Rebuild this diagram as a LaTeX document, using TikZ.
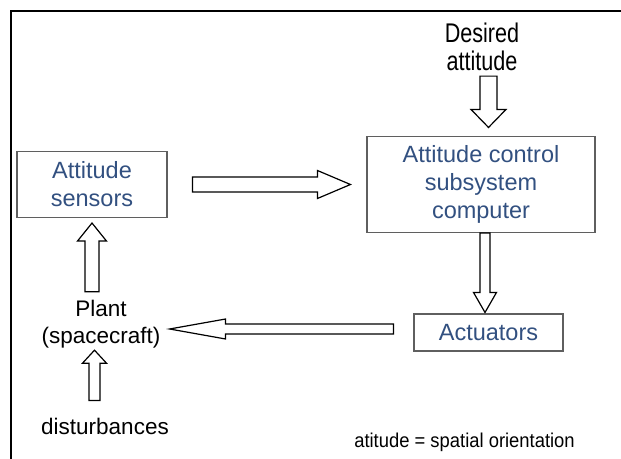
\documentclass[tikz,border=0pt]{standalone}
\usepackage{fontspec}
\setmainfont{Liberation Sans}
\newfontfamily\narrowfont[FakeStretch=0.8]{Liberation Sans}
\newfontfamily\notefont[FakeStretch=0.92]{Liberation Sans}
\usetikzlibrary{calc}
\definecolor{boxblue}{RGB}{50,80,128}
\definecolor{boxline}{RGB}{95,95,95}

\tikzset{
  block/.style={draw=boxline, line width=1.1bp, text=boxblue, align=center,
    inner sep=0pt, font=\fontsize{23.5bp}{28bp}\selectfont},
  plainlabel/.style={inner sep=0pt, align=center,
    font=\fontsize{22.5bp}{27bp}\selectfont},
  % hollow block arrow: shaft half width / head half width / head length
  blockarrow/.style args={#1/#2/#3}{draw, fill=white, line width=1.2bp,
    line join=miter, to path={
      ($(\tikztostart)!#1!90:(\tikztotarget)$)
      -- ($(\tikztotarget)!#3!(\tikztostart)!#1!90:(\tikztotarget)$)
      -- ($(\tikztotarget)!#3!(\tikztostart)!#2!90:(\tikztotarget)$)
      -- (\tikztotarget)
      -- ($(\tikztotarget)!#3!(\tikztostart)!#2!-90:(\tikztotarget)$)
      -- ($(\tikztotarget)!#3!(\tikztostart)!#1!-90:(\tikztotarget)$)
      -- ($(\tikztostart)!#1!-90:(\tikztotarget)$)
      -- cycle}}
}

\begin{document}
\begin{tikzpicture}[x=1bp, y=-1bp]
    \useasboundingbox (0,0) rectangle (621,459);
    % frame
    \draw[line width=1.8bp] (621,11) -- (11,11) -- (11,459);

    % boxes
    \node[block, minimum width=150bp, minimum height=66bp] (sens) at (92,184.5)
      {Attitude\\sensors};
    \node[block, minimum width=228bp, minimum height=96bp] (acs) at (481,184.5)
      {Attitude control\\subsystem\\computer};
    \node[block, minimum width=149bp, minimum height=37bp] (act) at (488.5,332.5)
      {Actuators};

    % plain texts
    \node[inner sep=0pt, align=center, font=\narrowfont\fontsize{27bp}{28bp}\selectfont]
      (des) at (482,47) {Desired\\attitude};
    \node[plainlabel] (plant) at (101,324) {Plant\\(spacecraft)};
    \node[plainlabel] (dist) at (105,426) {disturbances};
    \node[inner sep=0pt, font=\notefont\fontsize{20bp}{24bp}\selectfont]
      (note) at (464.5,442.5) {atitude = spatial orientation};

    % block arrows
    \draw[blockarrow=8.5bp/17.5bp/18bp] ([xshift=6.5bp,yshift=-5bp]des.south)
      to ([xshift=7.5bp,yshift=8.5bp]acs.north);
    \draw[blockarrow=7.5bp/14bp/33bp] ([xshift=25bp]sens.east)
      to ([xshift=-16bp]acs.west);
    \draw[blockarrow=5bp/11.5bp/20bp] ([xshift=4bp]acs.south)
      to ([xshift=-3.5bp,yshift=1bp]act.north);
    \draw[blockarrow=5bp/10bp/56bp] ([xshift=-20bp,yshift=3.5bp]act.west)
      to ([xshift=9bp,yshift=3.5bp]act.west -| plant.east);
    \draw[blockarrow=7bp/14.5bp/18bp] ([xshift=-9bp,yshift=8bp]plant.north)
      to ([yshift=-5bp]sens.south);
    \draw[blockarrow=5.5bp/12bp/13bp] ([xshift=-10.5bp,yshift=17bp]dist.north)
      to ([xshift=-10.5bp,yshift=-2bp]dist.north |- plant.south);
\end{tikzpicture}
\end{document}
